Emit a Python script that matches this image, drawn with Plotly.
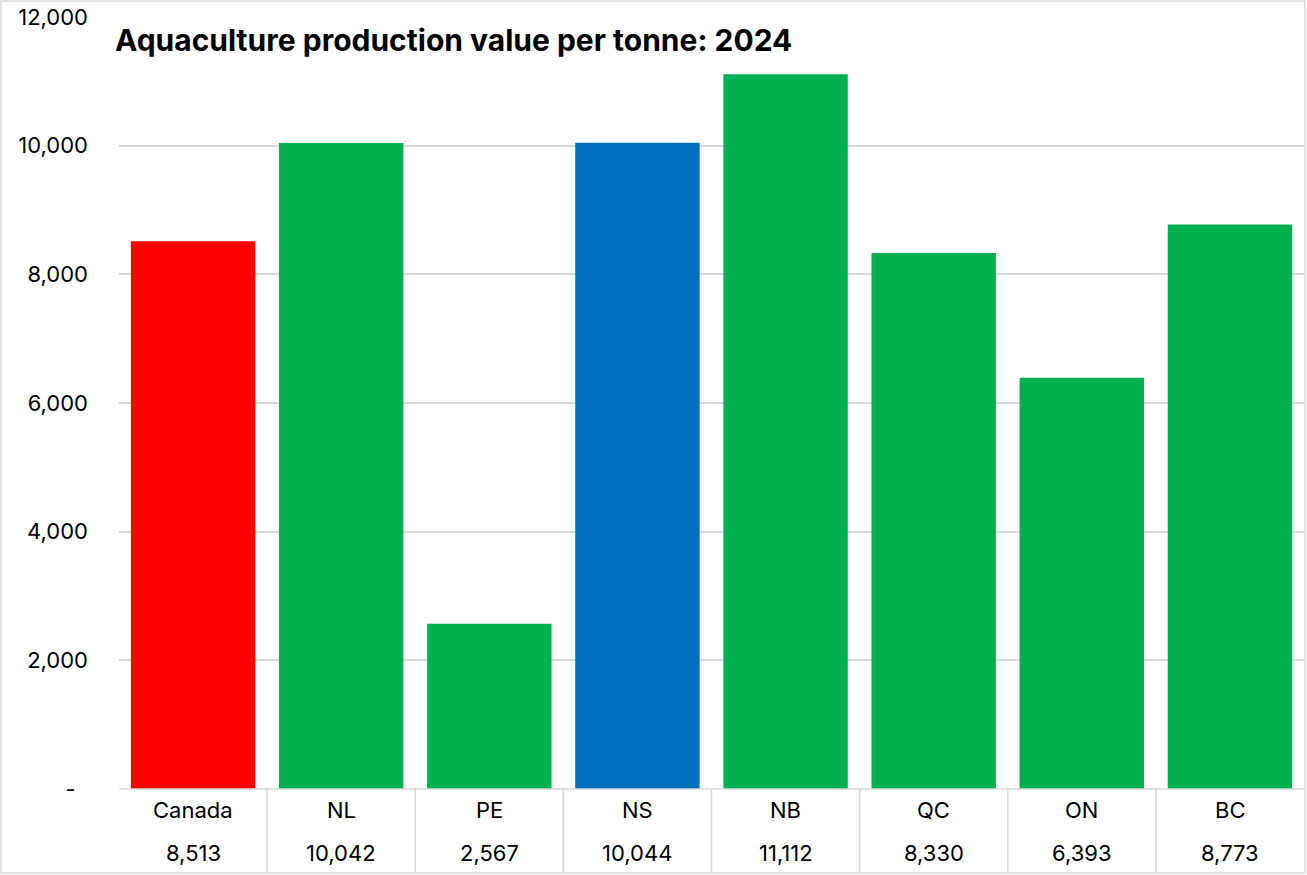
import plotly.graph_objects as go

categories = ["Canada", "NL", "PE", "NS", "NB", "QC", "ON", "BC"]
values = [8513, 10042, 2567, 10044, 11112, 8330, 6393, 8773]
bar_colors = ["#FF0000", "#00B050", "#00B050", "#0070C0", "#00B050", "#00B050", "#00B050", "#00B050"]
y_ticks = [0, 2000, 4000, 6000, 8000, 10000, 12000]
y_tick_labels = ["-\u00a0\u00a0", "2,000", "4,000", "6,000", "8,000", "10,000", "12,000"]
title_text = "Aquaculture production value per tonne: 2024"

FONT = "Inter, Roboto, 'Open Sans', sans-serif"
idx = list(range(len(categories)))

fig = go.Figure(go.Bar(x=idx, y=values, marker=dict(color=bar_colors, line=dict(width=0)),
                       hoverinfo="skip"))

W, H = 1307, 875
ml, mr, mt, mb = 119, 3, 17, 86
plot_h = H - mt - mb

def py(pix):
    return (H - mb - pix) / plot_h

annotations = []
shapes = []
for i, (c, v) in enumerate(zip(categories, values)):
    annotations.append(dict(x=i, y=py(810), xref="x", yref="paper", text=c, showarrow=False,
                            font=dict(family=FONT, size=22, color="#000000"), yanchor="middle"))
    annotations.append(dict(x=i, y=py(853), xref="x", yref="paper", text=f"{v:,}", showarrow=False,
                            font=dict(family=FONT, size=22, color="#000000"), yanchor="middle"))
for i in range(1, len(categories)):
    shapes.append(dict(type="line", xref="x", yref="paper", x0=i - 0.5, x1=i - 0.5,
                       y0=0, y1=py(873), line=dict(color="#D9D9D9", width=1.5)))
shapes.append(dict(type="line", xref="x", yref="paper", x0=-0.5, x1=len(categories) - 0.5,
                   y0=0, y1=0, line=dict(color="#D9D9D9", width=1.5)))
# outer chart border
shapes.append(dict(type="rect", xref="paper", yref="paper",
                   x0=(1 - ml) / (W - ml - mr), x1=(1305 - ml) / (W - ml - mr),
                   y0=py(873), y1=py(1), line=dict(color="#D9D9D9", width=1.5)))

annotations.append(dict(x=(113 - ml) / (W - ml - mr), y=py(40), xref="paper", yref="paper",
                        text=f"<b>{title_text}</b>", showarrow=False, xanchor="left", yanchor="middle",
                        font=dict(family=FONT, size=30, color="#000000")))

fig.update_layout(
    width=W, height=H,
    margin=dict(l=ml, r=mr, t=mt, b=mb),
    paper_bgcolor="white", plot_bgcolor="white",
    bargap=0.16,
    showlegend=False,
    xaxis=dict(range=[-0.5, len(categories) - 0.5], showticklabels=False, showgrid=False,
               zeroline=False, showline=False, ticks=""),
    yaxis=dict(range=[0, 12000], tickvals=y_ticks, ticktext=y_tick_labels,
               showgrid=True, gridcolor="#D9D9D9", gridwidth=1.5, zeroline=False, showline=False,
               ticks="", ticklabelstandoff=30,
               tickfont=dict(family=FONT, size=22, color="#000000")),
    annotations=annotations,
    shapes=shapes,
)

fig.write_html("out.html", config={"displayModeBar": False},
               post_script="document.body.style.margin='0';document.body.style.overflow='hidden';")
